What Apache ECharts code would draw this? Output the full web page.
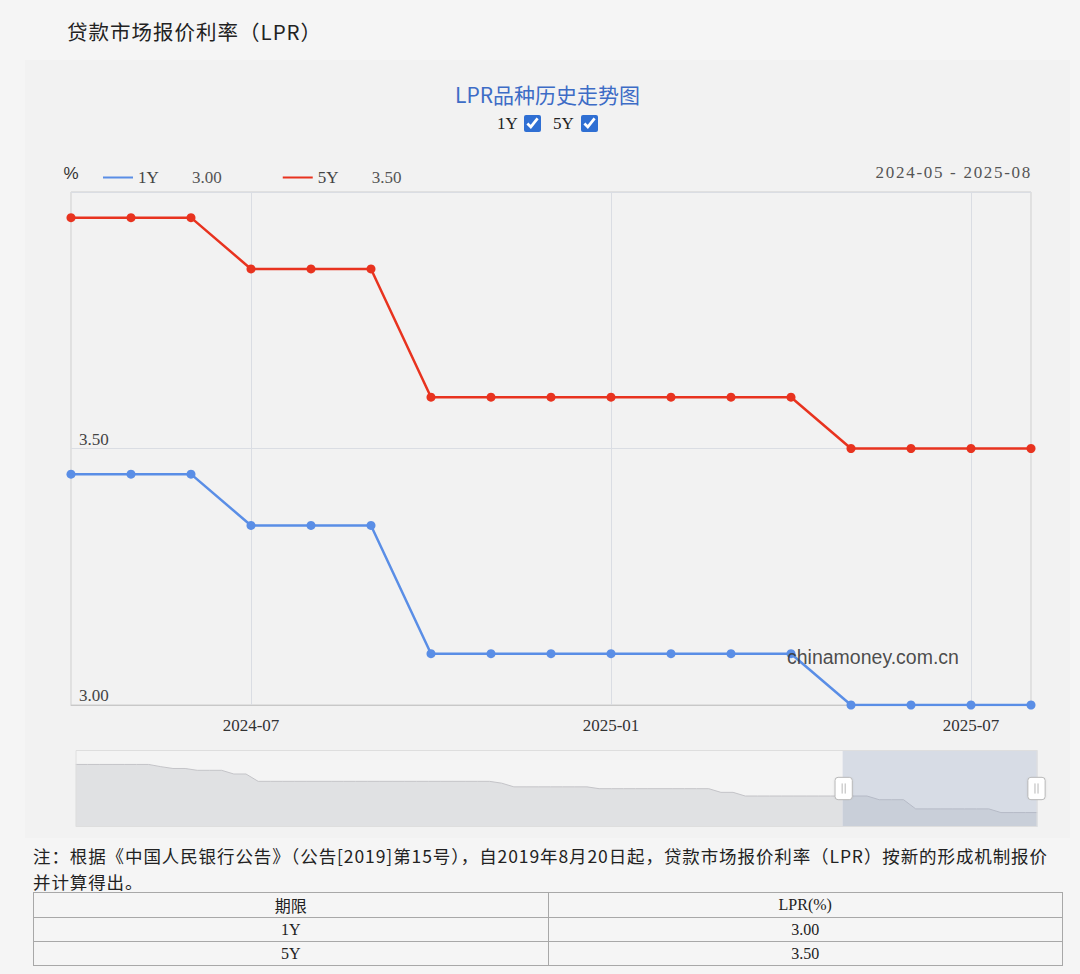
<!DOCTYPE html>
<html>
<head>
<meta charset="utf-8">
<script src="https://cdn.jsdelivr.net/npm/echarts@6/dist/echarts.min.js"></script>
<style>
  html, body { margin: 0; padding: 0; }
  body { width: 1080px; height: 974px; background: #f5f5f5; position: relative; overflow: hidden;
         font-family: "Liberation Serif", "Noto Sans CJK SC", serif; color: #222; }
  #pageTitle { position: absolute; left: 67px; top: 16px; font-size: 20.5px; color: #222;
               font-family: "Noto Sans CJK SC", sans-serif; letter-spacing: 1px; }
  #panel { position: absolute; left: 25px; top: 60px; width: 1045px; height: 778px; background: #f2f2f2; }
  #chart { position: absolute; left: 0; top: 0; width: 1045px; height: 778px; }
  .ck { position: absolute; top: 114px; font-size: 17px; color: #222; font-family: "Liberation Serif", serif; }
  .ck input { position: absolute; margin: 0; width: 17px; height: 17px; accent-color: #2f6fd3; }
  #range { position: absolute; right: 48px; top: 163px; font-size: 17px; color: #555;
           font-family: "Liberation Serif", serif; letter-spacing: 1.7px; white-space: pre; }
  .note { position: absolute; left: 33px; font-size: 17.5px; line-height: 25px; color: #222;
          font-family: "Noto Sans CJK SC", sans-serif; white-space: nowrap; letter-spacing: 0.9px; }
  #tbl { position: absolute; left: 33px; top: 892px; width: 1030px; border-collapse: collapse;
         font-size: 16px; color: #222; font-family: "Liberation Serif", "Noto Sans CJK SC", serif; }
  #tbl td { border: 1px solid #a8a8a8; height: 23px; padding: 0; text-align: center; width: 50%; }
</style>
</head>
<body>
<div id="pageTitle">贷款市场报价利率（LPR）</div>
<div id="panel"><div id="chart"></div></div>
<div class="ck" style="left:497px;">1Y<input type="checkbox" checked style="left:27px;top:1px;"></div>
<div class="ck" style="left:553px;">5Y<input type="checkbox" checked style="left:28px;top:1px;"></div>
<div id="range"></div>
<div class="note" style="top:843px;">注：根据《中国人民银行公告》（公告[2019]第15号），自2019年8月20日起，贷款市场报价利率（LPR）按新的形成机制报价</div>
<div class="note" style="top:869px;">并计算得出。</div>
<table id="tbl"></table>
<script>
// ---- data ----
const months = [
  '2019-01','2019-02','2019-03','2019-04','2019-05','2019-06','2019-07','2019-08','2019-09','2019-10','2019-11','2019-12',
  '2020-01','2020-02','2020-03','2020-04','2020-05','2020-06','2020-07','2020-08','2020-09','2020-10','2020-11','2020-12',
  '2021-01','2021-02','2021-03','2021-04','2021-05','2021-06','2021-07','2021-08','2021-09','2021-10','2021-11','2021-12',
  '2022-01','2022-02','2022-03','2022-04','2022-05','2022-06','2022-07','2022-08','2022-09','2022-10','2022-11','2022-12',
  '2023-01','2023-02','2023-03','2023-04','2023-05','2023-06','2023-07','2023-08','2023-09','2023-10','2023-11','2023-12',
  '2024-01','2024-02','2024-03','2024-04','2024-05','2024-06','2024-07','2024-08','2024-09','2024-10','2024-11','2024-12',
  '2025-01','2025-02','2025-03','2025-04','2025-05','2025-06','2025-07','2025-08'
];
const rate1Y = [
  4.31,4.31,4.31,4.31,4.31,4.31,4.31,4.25,4.20,4.20,4.15,4.15,
  4.15,4.05,4.05,3.85,3.85,3.85,3.85,3.85,3.85,3.85,3.85,3.85,
  3.85,3.85,3.85,3.85,3.85,3.85,3.85,3.85,3.85,3.85,3.85,3.80,
  3.70,3.70,3.70,3.70,3.70,3.70,3.70,3.65,3.65,3.65,3.65,3.65,
  3.65,3.65,3.65,3.65,3.65,3.55,3.55,3.45,3.45,3.45,3.45,3.45,
  3.45,3.45,3.45,3.45,3.45,3.45,3.35,3.35,3.35,3.10,3.10,3.10,
  3.10,3.10,3.10,3.10,3.00,3.00,3.00,3.00
];
const rate5Y = [
  null,null,null,null,null,null,null,4.85,4.85,4.85,4.80,4.80,
  4.80,4.75,4.75,4.65,4.65,4.65,4.65,4.65,4.65,4.65,4.65,4.65,
  4.65,4.65,4.65,4.65,4.65,4.65,4.65,4.65,4.65,4.65,4.65,4.65,
  4.60,4.60,4.60,4.60,4.45,4.45,4.45,4.30,4.30,4.30,4.30,4.30,
  4.30,4.30,4.30,4.30,4.30,4.20,4.20,4.20,4.20,4.20,4.20,4.20,
  4.20,3.95,3.95,3.95,3.95,3.95,3.85,3.85,3.85,3.60,3.60,3.60,
  3.60,3.60,3.60,3.60,3.50,3.50,3.50,3.50
];
const seriesNames = ['1Y', '5Y'];
const windowRange = ['2024-04', '2025-08'];
const rangeLabel = ['2024-05', '2025-08'];
const yTicks = { min: 3.0, max: 4.0, step: 0.5 };
const tableHeader = ['期限', 'LPR(%)'];

// ---- html parts ----
const latest = [rate1Y[rate1Y.length - 1], rate5Y[rate5Y.length - 1]];
const tbl = document.getElementById('tbl');
let html = '<tr><td>' + tableHeader[0] + '</td><td>' + tableHeader[1] + '</td></tr>';
seriesNames.forEach((n, i) => { html += '<tr><td>' + n + '</td><td>' + latest[i].toFixed(2) + '</td></tr>'; });
tbl.innerHTML = html;
document.getElementById('range').textContent = rangeLabel[0] + ' - ' + rangeLabel[1];

// ---- chart ----
const numFont = '"Liberation Serif", serif';
const isHalfYear = (v) => /-(01|07)$/.test(v);
const chart = echarts.init(document.getElementById('chart'), null, { renderer: 'svg' });
chart.setOption({
  animation: false,
  backgroundColor: 'transparent',
  title: {
    text: 'LPR品种历史走势图', left: 'center', top: 18,
    textStyle: { color: '#3d6cc6', fontSize: 21, fontWeight: 'normal', fontFamily: '"Noto Sans CJK SC", sans-serif' }
  },
  legend: {
    left: 73, top: 104, selectedMode: false, icon: 'rect', itemWidth: 30, itemHeight: 2, itemGap: 61,
    data: seriesNames,
    formatter: (name) => '{n|' + name + '}{v|' + latest[seriesNames.indexOf(name)].toFixed(2) + '}',
    textStyle: {
      fontFamily: numFont, fontSize: 17, color: '#444',
      rich: { n: { width: 54, fontFamily: numFont, fontSize: 17, color: '#444' },
              v: { width: 40, fontFamily: numFont, fontSize: 17, color: '#555' } }
    }
  },
  grid: { left: 46, right: 39, top: 132, bottom: 133, show: true, borderColor: '#cfcfcf', borderWidth: 1, containLabel: false },
  xAxis: {
    type: 'category', data: months, boundaryGap: false,
    axisLine: { lineStyle: { color: '#c8c8c8' } },
    axisTick: { show: false },
    axisLabel: { interval: (i, v) => isHalfYear(v), color: '#333', fontSize: 17, fontFamily: numFont, margin: 12 },
    splitLine: { show: true, interval: (i, v) => isHalfYear(v), lineStyle: { color: '#dadde3' } }
  },
  yAxis: {
    type: 'value', min: yTicks.min, max: yTicks.max, interval: yTicks.step,
    name: '%', nameLocation: 'end', nameGap: 10,
    nameTextStyle: { color: '#333', fontSize: 17, fontFamily: '"Liberation Sans", sans-serif', align: 'center' },
    axisLine: { show: false }, axisTick: { show: false },
    axisLabel: { inside: true, showMaxLabel: false, verticalAlign: 'bottom', margin: 8, color: '#444', fontSize: 17,
                 fontFamily: numFont, formatter: (v) => v.toFixed(2), padding: [0, 0, 1, 0] },
    splitLine: { lineStyle: { color: '#dadde3' } }
  },
  dataZoom: [{
    type: 'slider', xAxisIndex: 0,
    startValue: months.indexOf(windowRange[0]), endValue: months.indexOf(windowRange[1]),
    left: 48, right: 35, top: 690, height: 77,
    showDetail: false, brushSelect: false, moveHandleSize: 0, showDataShadow: true,
    borderColor: '#dedede', borderRadius: 0, backgroundColor: 'rgba(255,255,255,0.15)',
    fillerColor: 'rgba(150,165,195,0.30)',
    dataBackground: { lineStyle: { color: '#c4c4c8', width: 1 }, areaStyle: { color: '#e0e1e3', opacity: 1 } },
    selectedDataBackground: { lineStyle: { color: '#c4c4c8', width: 1 }, areaStyle: { color: '#e0e1e3', opacity: 1 } },
    handleIcon: 'path://M3,0 H14 A3,3,0,0,1,17,3 V19 A3,3,0,0,1,14,22 H3 A3,3,0,0,1,0,19 V3 A3,3,0,0,1,3,0 Z M7,6 V16 M10,6 V16',
    handleSize: '29%',
    handleStyle: { color: '#ffffff', borderColor: '#b8b8b8', borderWidth: 1, shadowBlur: 2, shadowColor: 'rgba(0,0,0,0.08)' },
    emphasis: { handleStyle: { color: '#ffffff', borderColor: '#b8b8b8' } },
    moveHandleStyle: { opacity: 0 }
  }],
  graphic: [
    { type: 'text', x: 762, y: 597, z: 100,
      style: { text: 'chinamoney.com.cn', fill: 'rgba(55,55,55,0.9)', font: '19.5px "Liberation Sans", sans-serif',
               verticalAlign: 'middle', textVerticalAlign: 'middle' } }
  ],
  series: [
    { name: seriesNames[0], type: 'line', data: rate1Y, color: '#5a8ee6', symbol: 'circle', symbolSize: 9,
      showAllSymbol: true, lineStyle: { width: 2.5, color: '#5a8ee6' }, itemStyle: { color: '#5a8ee6' },
      emphasis: { disabled: true }, z: 3 },
    { name: seriesNames[1], type: 'line', data: rate5Y, color: '#e8331f', symbol: 'circle', symbolSize: 9,
      showAllSymbol: true, lineStyle: { width: 2.5, color: '#e8331f' }, itemStyle: { color: '#e8331f' },
      emphasis: { disabled: true }, z: 3 }
  ]
});
</script>
</body>
</html>
